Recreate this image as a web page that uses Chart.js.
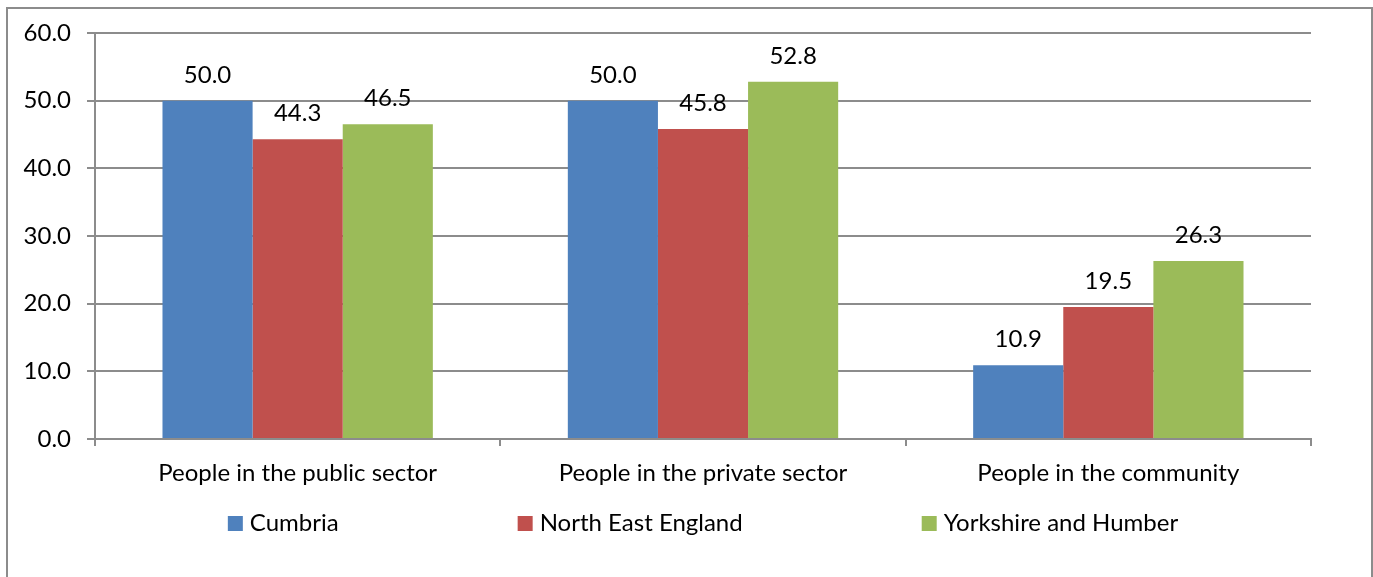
<!DOCTYPE html>
<html>
<head>
<meta charset="utf-8">
<script src="https://cdn.jsdelivr.net/npm/chart.js@4"></script>
<style>
  html, body { margin: 0; padding: 0; background: #fff; }
  #wrap { position: relative; width: 1373px; height: 577px; }
  #frame {
    position: absolute; left: 6px; top: 7px; width: 1363px; height: 580px;
    border: 2px solid #8c8c8c; pointer-events: none;
  }
</style>
</head>
<body>
<div id="wrap">
  <canvas id="chart" width="1373" height="577"></canvas>
  <div id="frame"></div>
</div>
<script>
// Categories and series
const categories = ['People in the public sector', 'People in the private sector', 'People in the community'];
const cumbria = [50.0, 50.0, 10.9];
const northEast = [44.3, 45.8, 19.5];
const yorkshire = [46.5, 52.8, 26.3];
const yTicks = [0, 10, 20, 30, 40, 50, 60];

const FONT = 'Lato, "Open Sans", sans-serif';
const SIZE = 24;
const GRID = '#8c8c8c';

// value labels above each bar
const valueLabels = {
  id: 'valueLabels',
  afterDatasetsDraw(chart) {
    const ctx = chart.ctx;
    ctx.save();
    ctx.font = SIZE + 'px ' + FONT;
    ctx.fillStyle = '#000';
    ctx.textAlign = 'center';
    ctx.textBaseline = 'alphabetic';
    chart.data.datasets.forEach((ds, i) => {
      chart.getDatasetMeta(i).data.forEach((bar, j) => {
        ctx.fillText(ds.data[j].toFixed(1), bar.x, bar.y - 18);
      });
    });
    ctx.restore();
  }
};

// legend row drawn under the axis labels
const bottomLegend = {
  id: 'bottomLegend',
  afterDraw(chart) {
    const ctx = chart.ctx;
    const gap = 179, box = 15, textGap = 7;
    ctx.save();
    ctx.font = SIZE + 'px ' + FONT;
    ctx.textBaseline = 'alphabetic';
    const items = chart.data.datasets.map(ds => ({
      label: ds.label, color: ds.backgroundColor,
      w: box + textGap + ctx.measureText(ds.label).width
    }));
    const total = items.reduce((s, it) => s + it.w, 0) + gap * (items.length - 1);
    let x = (chart.chartArea.left + chart.chartArea.right) / 2 - total / 2;
    const base = 531;
    items.forEach(it => {
      ctx.fillStyle = it.color;
      ctx.fillRect(x, base - box, box, box);
      ctx.fillStyle = '#000';
      ctx.textAlign = 'left';
      ctx.fillText(it.label, x + box + textGap, base);
      x += it.w + gap;
    });
    ctx.restore();
  }
};

new Chart(document.getElementById('chart'), {
  type: 'bar',
  data: {
    labels: categories,
    datasets: [
      { label: 'Cumbria', data: cumbria, backgroundColor: '#4f81bd' },
      { label: 'North East England', data: northEast, backgroundColor: '#c0504d' },
      { label: 'Yorkshire and Humber', data: yorkshire, backgroundColor: '#9bbb59' }
    ]
  },
  options: {
    responsive: false,
    animation: false,
    layout: { padding: { top: 33, right: 62, left: 0, bottom: 0 } },
    datasets: { bar: { categoryPercentage: 0.667, barPercentage: 1.0 } },
    plugins: { legend: { display: false }, tooltip: { enabled: false } },
    scales: {
      x: {
        afterFit(scale) { scale.height = 138; },
        grid: { drawOnChartArea: false, drawTicks: true, tickLength: 7, color: GRID, lineWidth: 2, offset: true },
        border: { display: true, color: GRID, width: 2 },
        ticks: { color: '#000', font: { family: FONT, size: SIZE }, padding: 13, maxRotation: 0 }
      },
      y: {
        min: 0, max: 60,
        afterFit(scale) { scale.width = 95; },
        afterBuildTicks(scale) { scale.ticks = yTicks.map(v => ({ value: v })); },
        grid: { color: GRID, lineWidth: 2, tickLength: 8, drawTicks: true },
        border: { display: true, color: GRID, width: 2 },
        ticks: {
          color: '#000', font: { family: FONT, size: SIZE }, padding: 16,
          callback: v => v.toFixed(1)
        }
      }
    }
  },
  plugins: [valueLabels, bottomLegend]
});
</script>
</body>
</html>
